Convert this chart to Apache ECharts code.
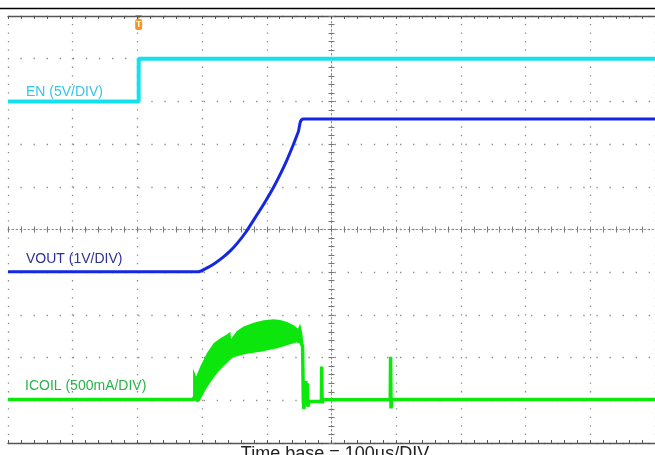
<!DOCTYPE html>
<html><head><meta charset="utf-8">
<script src="https://cdn.jsdelivr.net/npm/echarts@6/dist/echarts.min.js"></script>
<style>html,body{margin:0;padding:0;background:#fff}#c{width:655px;height:455px}</style>
</head><body><div id="c"></div>
<script>
// time in µs relative to screen centre (100 µs/DIV); levels in divisions relative to screen centre
const triggerTime = -298;

const enTime = [-500, -298, -298, 500];
const enDiv  = [3.0, 3.0, 4.0, 4.0];

const voutTime = [-500, -206.6, -193.9, -181.2, -168.4, -155.7, -145.5, -132.8, -117.5, -104.8, -89.5, -79.3, -69.1, -58.9, -51.3, -43.7, 500];
const voutDiv  = [-0.99, -0.99, -0.91, -0.80, -0.66, -0.49, -0.32, -0.07, 0.29, 0.59, 0.99, 1.29, 1.62, 1.99, 2.29, 2.59, 2.59];

const icoilPreTime = [-500, -212.8];
const icoilPreDiv  = [-3.98, -3.98];
const icoilUpperTime = [-212.8, -209.2, -201.6, -191.4, -181.1, -171.1, -160.8, -157.3, -155.8, -153.2, -145.5, -135.3, -120.0, -104.7, -89.5, -79.4, -69.1, -58.9, -51.3, -48.8, -46.2, -44.7];
const icoilUpperDiv  = [-3.35, -3.49, -3.21, -2.90, -2.67, -2.56, -2.47, -2.43, -2.63, -2.55, -2.39, -2.29, -2.20, -2.14, -2.12, -2.135, -2.18, -2.26, -2.35, -2.26, -2.43, -2.67];
const icoilLowerTime = [-212.8, -206.6, -196.4, -186.3, -176.1, -165.9, -158.2, -153.2, -135.3, -109.9, -84.4, -64.1, -53.9, -47.7, -44.7];
const icoilLowerDiv  = [-3.92, -4.01, -3.72, -3.49, -3.29, -3.13, -3.02, -2.96, -2.88, -2.82, -2.74, -2.65, -2.60, -2.63, -2.74];
const icoilPostTime = [-43.5, -42.7, -41.5, -39.6, -38.8, -37.5, -36.5, -35, -15.6, -15.2, -14.5, -13.1, 90.8, 91.3, 92, 93, 500];
const icoilPostDiv  = [-4.05, -4.2, -4.02, -3.55, -4.1, -3.6, -4.15, -4.03, -4.03, -3.21, -4.07, -3.99, -3.98, -2.98, -4.19, -3.98, -3.98];

const labels = ['EN (5V/DIV)', 'VOUT (1V/DIV)', 'ICOIL (500mA/DIV)'];
const caption = 'Time base = 100µs/DIV';

const zip = (a, b) => a.map((v, i) => [v, b[i]]);
const icoilTrace = zip(icoilPreTime, icoilPreDiv)
  .concat(zip(icoilLowerTime, icoilLowerDiv))
  .concat(zip(icoilPostTime, icoilPostDiv));
const bandUpper = zip(icoilUpperTime, icoilUpperDiv);
const bandLower = zip(icoilLowerTime, icoilLowerDiv);

const chart = echarts.init(document.getElementById('c'), null, {renderer: 'canvas'});
const border = '#555';
const dot = '#8a8a8a';
const centre = '#8a8a8a';
const xBase = {type: 'value', min: -500, max: 500, interval: 100, axisLabel: {show: false}, splitLine: {show: false}};
const yBase = {type: 'value', min: -5, max: 5, interval: 1, axisLabel: {show: false}, splitLine: {show: false}};
const tick = (inside, c) => ({show: true, inside: inside, length: 3, lineStyle: {color: c, width: 1}});
const minor = (c) => ({show: true, splitNumber: 5, length: 3, lineStyle: {color: c, width: 1}});

chart.setOption({
  animation: false,
  backgroundColor: '#fff',
  grid: {left: 8, right: -7, top: 16, bottom: 12, containLabel: false},
  xAxis: [
    Object.assign({}, xBase, {position: 'bottom',
      axisLine: {show: true, onZero: false, lineStyle: {color: border, width: 1.3}},
      axisTick: tick(true, border), minorTick: minor(border),
      splitLine: {show: true, lineStyle: {color: dot, width: 1.3, type: [1.3, 7.24], dashOffset: 0.65}}}),
    Object.assign({}, xBase, {position: 'top',
      axisLine: {show: true, onZero: false, lineStyle: {color: border, width: 1.3}},
      axisTick: tick(true, border), minorTick: minor(border)}),
    Object.assign({}, xBase, {position: 'bottom',
      axisLine: {show: true, onZero: true, onZeroAxisIndex: 0, lineStyle: {color: centre, width: 1, type: [1.5, 2.5]}},
      axisTick: tick(true, '#777'), minorTick: minor('#777')}),
    Object.assign({}, xBase, {position: 'bottom',
      axisLine: {show: false, onZero: true, onZeroAxisIndex: 0},
      axisTick: tick(false, '#777'), minorTick: minor('#777')})
  ],
  yAxis: [
    Object.assign({}, yBase, {position: 'left',
      axisLine: {show: false, onZero: false}, axisTick: {show: false},
      splitLine: {show: true, lineStyle: {color: dot, width: 1.3, type: [1.3, 11.79], dashOffset: 0.65}}}),
    Object.assign({}, yBase, {position: 'left',
      axisLine: {show: true, onZero: true, onZeroAxisIndex: 0, lineStyle: {color: centre, width: 1, type: [1.5, 2.5]}},
      axisTick: tick(true, '#777'), minorTick: minor('#777')}),
    Object.assign({}, yBase, {position: 'left',
      axisLine: {show: false, onZero: true, onZeroAxisIndex: 0},
      axisTick: tick(false, '#777'), minorTick: minor('#777')})
  ],
  series: [
    {name: 'EN', type: 'line', xAxisIndex: 0, yAxisIndex: 0, data: zip(enTime, enDiv),
      showSymbol: false, lineStyle: {color: '#17e0ee', width: 4}, z: 3},
    {name: 'VOUT', type: 'line', xAxisIndex: 0, yAxisIndex: 0, data: zip(voutTime, voutDiv),
      showSymbol: false, smooth: 0.3, lineStyle: {color: '#1428e2', width: 3}, z: 3},
    {name: 'ICOIL ripple', type: 'custom', xAxisIndex: 0, yAxisIndex: 0, data: [[0, 0]], z: 3,
      renderItem: function (params, api) {
        const pts = bandUpper.map(p => api.coord(p)).concat(bandLower.slice().reverse().map(p => api.coord(p)));
        return {type: 'polygon', shape: {points: pts},
          style: {fill: '#0ce60c', stroke: '#0ce60c', lineWidth: 1.5}};
      }},
    {name: 'ICOIL', type: 'line', xAxisIndex: 0, yAxisIndex: 0, data: icoilTrace,
      showSymbol: false, lineStyle: {color: '#0ce80c', width: 3.5}, z: 4}
  ]
});

const trigX = chart.convertToPixel({xAxisIndex: 0}, triggerTime);
const font = '"Liberation Sans", Arial, sans-serif';
chart.setOption({
  graphic: [
    {type: 'line', id: 'rule', shape: {x1: 0, y1: 8.5, x2: 655, y2: 8.5}, style: {stroke: '#000', lineWidth: 1.5}, z: 10},
    {type: 'text', id: 'l0', left: 26, top: 85, style: {text: labels[0], fill: '#33c6ec', font: '14px ' + font}, z: 10},
    {type: 'text', id: 'l1', left: 26, top: 252, style: {text: labels[1], fill: '#2e3192', font: '14px ' + font}, z: 10},
    {type: 'text', id: 'l2', left: 25, top: 379, style: {text: labels[2], fill: '#2db24b', font: '14px ' + font}, z: 10},
    {type: 'text', id: 'cap', x: 335, y: 445, style: {text: caption, fill: '#222', font: '18px ' + font, align: 'center', verticalAlign: 'top'}, z: 10},
    {type: 'group', id: 'trig', x: trigX, y: 15, z: 10, children: [
      {type: 'polygon', shape: {points: [[-3.5, 0], [3.5, 0], [0, 4]]}, style: {fill: '#f7941d'}},
      {type: 'rect', shape: {x: -3.5, y: 4, width: 7, height: 11, r: 2}, style: {fill: '#f7941d'}},
      {type: 'text', x: 0, y: 5, style: {text: 'T', fill: '#fff', font: 'bold 9px ' + font, align: 'center', verticalAlign: 'top'}}
    ]}
  ]
});
</script>
</body></html>
